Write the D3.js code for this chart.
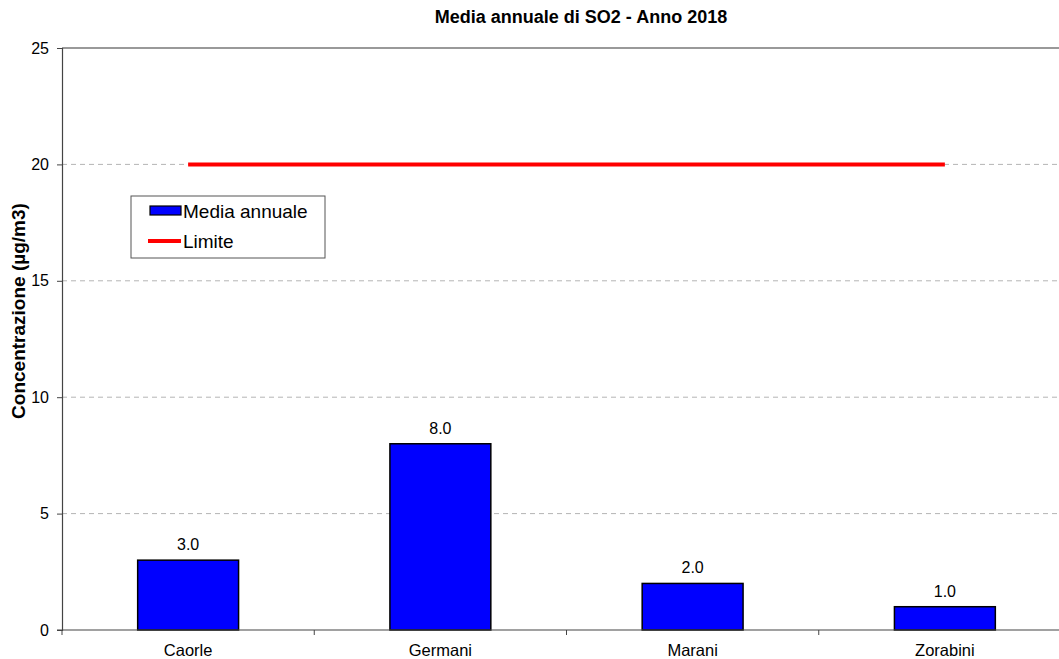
<!DOCTYPE html>
<html>
<head>
<meta charset="utf-8">
<script src="https://cdn.jsdelivr.net/npm/d3@7"></script>
<style>
  body { margin: 0; background: #fff; }
  svg { display: block; font-family: "Liberation Sans", Arial, sans-serif; }
</style>
</head>
<body>
<svg id="chart" width="1059" height="659"></svg>
<script>
// Annual mean SO2 per station, 2018
const categories = ["Caorle", "Germani", "Marani", "Zorabini"];
const meanValues = [3.0, 8.0, 2.0, 1.0];
const limitValue = 20;
const yTicks = [0, 5, 10, 15, 20, 25];

const svg = d3.select("#chart");
const margin = { left: 62, top: 48, bottom: 630 };
const plotRight = 1071;

const x = d3.scaleBand().domain(categories).range([margin.left, plotRight]).padding(0);
const y = d3.scaleLinear().domain([0, 25]).range([margin.bottom, margin.top]);

// Title
svg.append("text")
  .attr("x", 581).attr("y", 23)
  .attr("text-anchor", "middle")
  .attr("font-weight", "bold").attr("font-size", 18)
  .text("Media annuale di SO2 - Anno 2018");

// Gridlines (dashed) and top border
svg.append("g").selectAll("line")
  .data(yTicks.filter(d => d > 0 && d < 25))
  .join("line")
  .attr("x1", margin.left).attr("x2", 1059)
  .attr("y1", d => y(d)).attr("y2", d => y(d))
  .attr("stroke", "#b4b4b4").attr("stroke-width", 1)
  .attr("stroke-dasharray", "5,4");
svg.append("line")
  .attr("x1", margin.left).attr("x2", 1059)
  .attr("y1", y(25)).attr("y2", y(25))
  .attr("stroke", "#999").attr("stroke-width", 2);

// Y axis
const yAxis = svg.append("g")
  .attr("transform", `translate(${margin.left},0)`)
  .call(d3.axisLeft(y).tickValues(yTicks).tickSize(5).tickPadding(8).tickFormat(d3.format("d")));
yAxis.select(".domain").attr("stroke", "#444").attr("stroke-width", 1.2);
yAxis.selectAll(".tick line").attr("stroke", "#444");
yAxis.selectAll(".tick text").attr("font-size", 16).attr("fill", "#000")
  .attr("font-family", "Liberation Sans, Arial, sans-serif");

svg.append("text")
  .attr("transform", `translate(25,311) rotate(-90)`)
  .attr("text-anchor", "middle")
  .attr("font-weight", "bold").attr("font-size", 19)
  .text("Concentrazione (µg/m3)");

// Bars
const barW = x.bandwidth() * 0.4;
svg.append("g").selectAll("rect")
  .data(categories.map((c, i) => ({ c, v: meanValues[i] })))
  .join("rect")
  .attr("x", d => x(d.c) + (x.bandwidth() - barW) / 2)
  .attr("y", d => y(d.v))
  .attr("width", barW)
  .attr("height", d => y(0) - y(d.v))
  .attr("fill", "#0000ff").attr("stroke", "#000").attr("stroke-width", 1.5);

// Value labels
svg.append("g").selectAll("text")
  .data(categories.map((c, i) => ({ c, v: meanValues[i] })))
  .join("text")
  .attr("x", d => x(d.c) + x.bandwidth() / 2)
  .attr("y", d => y(d.v) - 10)
  .attr("text-anchor", "middle").attr("font-size", 16)
  .text(d => d3.format(".1f")(d.v));

// X axis
const xAxis = svg.append("g")
  .attr("transform", `translate(0,${margin.bottom})`);
xAxis.append("line")
  .attr("x1", margin.left - 5).attr("x2", 1059)
  .attr("stroke", "#444").attr("stroke-width", 1.2);
xAxis.selectAll(".tk")
  .data(categories)
  .join("line").attr("class", "tk")
  .attr("x1", d => x(d)).attr("x2", d => x(d))
  .attr("y1", 0).attr("y2", 5)
  .attr("stroke", "#444");
xAxis.selectAll(".lbl")
  .data(categories)
  .join("text").attr("class", "lbl")
  .attr("x", d => x(d) + x.bandwidth() / 2)
  .attr("y", 26)
  .attr("text-anchor", "middle").attr("font-size", 16.5)
  .text(d => d);

// Limit line
svg.append("line")
  .attr("x1", x(categories[0]) + x.bandwidth() / 2)
  .attr("x2", x(categories[categories.length - 1]) + x.bandwidth() / 2)
  .attr("y1", y(limitValue)).attr("y2", y(limitValue))
  .attr("stroke", "#ff0000").attr("stroke-width", 4);

// Legend
const lg = svg.append("g");
lg.append("rect")
  .attr("x", 131).attr("y", 196).attr("width", 194).attr("height", 62)
  .attr("fill", "#fff").attr("stroke", "#555").attr("stroke-width", 1);
lg.append("rect")
  .attr("x", 150).attr("y", 206).attr("width", 31).attr("height", 9)
  .attr("fill", "#0000ff").attr("stroke", "#000").attr("stroke-width", 1.2);
lg.append("text").attr("x", 183).attr("y", 218).attr("font-size", 19).text("Media annuale");
lg.append("line")
  .attr("x1", 148).attr("x2", 181).attr("y1", 241).attr("y2", 241)
  .attr("stroke", "#ff0000").attr("stroke-width", 4);
lg.append("text").attr("x", 183).attr("y", 248).attr("font-size", 19).text("Limite");
</script>
</body>
</html>
